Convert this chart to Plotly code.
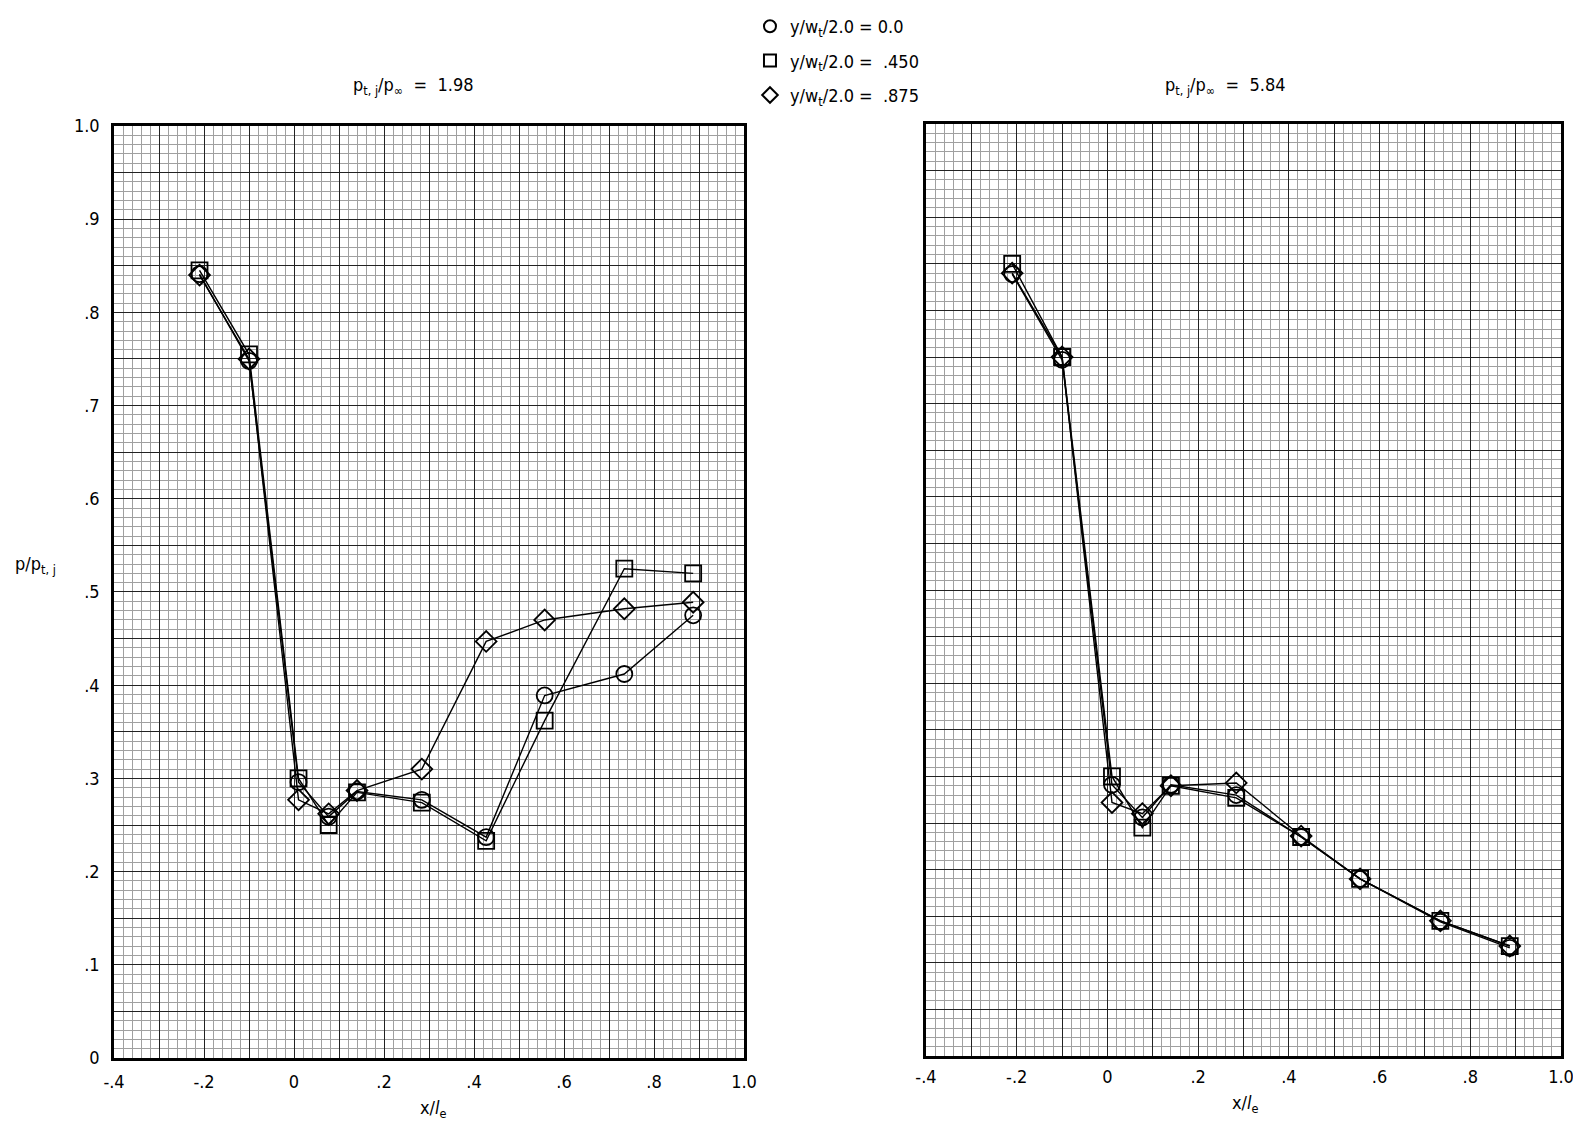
import plotly.graph_objects as go

# ---- data ----
x_pos = [-0.21, -0.10, 0.01, 0.077, 0.14, 0.284, 0.427, 0.557, 0.734, 0.887]

# p_tj/p_inf = 1.98
left_circle  = [0.841, 0.748, 0.296, 0.259, 0.286, 0.277, 0.237, 0.389, 0.412, 0.475]
left_square  = [0.845, 0.755, 0.300, 0.250, 0.285, 0.274, 0.233, 0.362, 0.525, 0.520]
left_diamond = [0.840, 0.750, 0.277, 0.262, 0.287, 0.310, 0.447, 0.470, 0.482, 0.489]

# p_tj/p_inf = 5.84
right_circle  = [0.839, 0.747, 0.291, 0.256, 0.291, 0.280, 0.235, 0.190, 0.144, 0.116]
right_square  = [0.850, 0.750, 0.300, 0.245, 0.290, 0.277, 0.235, 0.190, 0.145, 0.118]
right_diamond = [0.840, 0.750, 0.272, 0.260, 0.290, 0.293, 0.236, 0.190, 0.145, 0.118]

series_names = ["y/w<sub>t</sub>/2.0 = 0.0", "y/w<sub>t</sub>/2.0 =  .450", "y/w<sub>t</sub>/2.0 =  .875"]
symbols = ["circle-open", "square-open", "diamond-open"]

x_ticks = [-0.4, -0.3, -0.2, -0.1, 0.0, 0.1, 0.2, 0.3, 0.4, 0.5, 0.6, 0.7, 0.8, 0.9, 1.0]
x_tick_text = ["-.4", "", "-.2", "", "0", "", ".2", "", ".4", "", ".6", "", ".8", "", "1.0"]
y_ticks = [i * 0.05 for i in range(21)]
y_tick_text = ["0", "", ".1", "", ".2", "", ".3", "", ".4", "", ".5", "", ".6", "", ".7", "", ".8", "", ".9", "", "1.0"]
y_tick_text_blank = [""] * 21

FONT = "DejaVu Sans Condensed, Liberation Sans Narrow, sans-serif"
FS = 18

fig = go.Figure()

panels = [
    ("x", "y", [left_circle, left_square, left_diamond], True),
    ("x2", "y2", [right_circle, right_square, right_diamond], False),
]
for xa, ya, data, legend in panels:
    for vals in data:
        fig.add_trace(go.Scatter(x=x_pos, y=vals, xaxis=xa, yaxis=ya, mode="lines",
                                 line=dict(color="black", width=1.4), showlegend=False,
                                 hoverinfo="skip"))
    for i, vals in enumerate(data):
        fig.add_trace(go.Scatter(x=x_pos, y=vals, xaxis=xa, yaxis=ya, mode="markers",
                                 marker=dict(symbol=symbols[i], size=16, color="black",
                                             line=dict(width=1.8, color="black")),
                                 name=series_names[i], legendgroup=f"g{i}",
                                 showlegend=legend))

axis_common = dict(
    showline=True, linecolor="black", linewidth=2.5, mirror=True,
    showgrid=True, gridcolor="#222", gridwidth=1.1,
    zeroline=False, ticks="", automargin=False,
    tickfont=dict(family=FONT, size=FS, color="black"),
)
minor_x = dict(dtick=0.02, showgrid=True, gridcolor="#a0a0a0", gridwidth=0.7)
minor_y = dict(dtick=0.01, showgrid=True, gridcolor="#a0a0a0", gridwidth=0.7)

fig.update_layout(
    width=1573, height=1132,
    margin=dict(l=0, r=0, t=0, b=0, autoexpand=False),
    paper_bgcolor="white", plot_bgcolor="white",
    font=dict(family=FONT, size=FS, color="black"),
    xaxis=dict(domain=[0.0674, 0.4679], range=[-0.4, 1.0], tickmode="array",
               tickvals=x_ticks, ticktext=x_tick_text, ticklabelstandoff=6,
               minor=minor_x, anchor="y", **axis_common),
    yaxis=dict(domain=[0.0724, 0.8958], range=[0, 1.0], tickmode="array",
               tickvals=y_ticks, ticktext=y_tick_text, ticklabelstandoff=8,
               minor=minor_y, anchor="x", **axis_common),
    xaxis2=dict(domain=[0.5836, 0.9873], range=[-0.4, 1.0], tickmode="array",
                tickvals=x_ticks, ticktext=x_tick_text, ticklabelstandoff=3,
                minor=minor_x, anchor="y2", **axis_common),
    yaxis2=dict(domain=[0.0742, 0.8975], range=[0, 1.0], tickmode="array",
                tickvals=y_ticks, ticktext=y_tick_text_blank,
                minor=minor_y, anchor="x2", **axis_common),
    legend=dict(x=0.4717, y=1.0, xanchor="left", yanchor="top", bgcolor="rgba(255,255,255,0)",
                font=dict(family=FONT, size=FS, color="black"), tracegroupgap=8,
                itemsizing="constant"),
    showlegend=True,
)

annotations = [
    dict(text="p<sub>t, j</sub>/p<sub>∞</sub>  =  1.98", x=0.2575, y=0.9311),
    dict(text="p<sub>t, j</sub>/p<sub>∞</sub>  =  5.84", x=0.7737, y=0.9311),
    dict(text="p/p<sub>t, j</sub>", x=0.0172, y=0.508),
    dict(text="x/<i>l</i><sub>e</sub>", x=0.2708, y=0.0274),
    dict(text="x/<i>l</i><sub>e</sub>", x=0.7864, y=0.0318),
]
for a in annotations:
    fig.add_annotation(xref="paper", yref="paper", showarrow=False,
                       xanchor="center", yanchor="middle",
                       font=dict(family=FONT, size=FS, color="black"), **a)

fig.write_html("out.html")
